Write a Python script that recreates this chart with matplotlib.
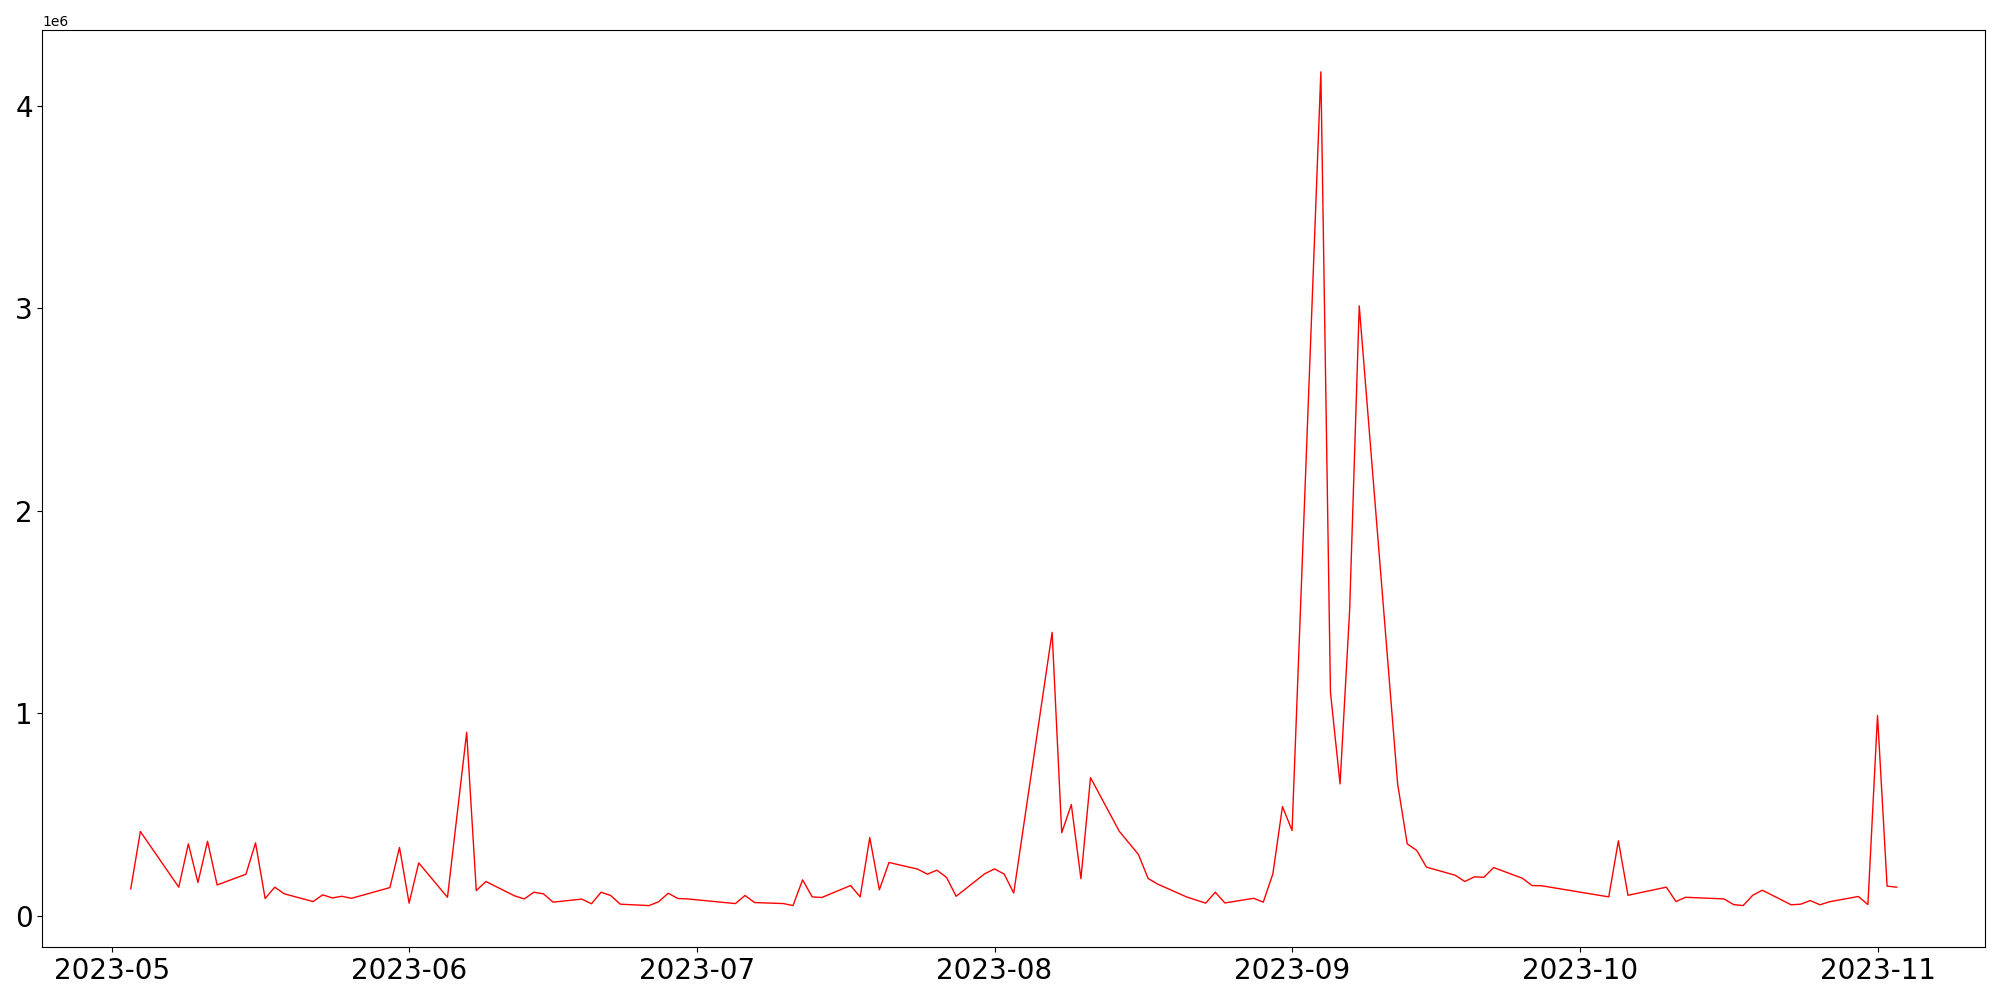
import matplotlib
matplotlib.use("Agg")
import matplotlib.pyplot as plt
import pandas as pd

# daily values (in millions)
may_days = [3, 4, 8, 9, 10, 11, 12, 15, 16, 17, 18, 19, 22, 23, 24, 25, 26, 30, 31]
may_vals = [0.132, 0.415, 0.140, 0.354, 0.163, 0.367, 0.151, 0.204, 0.359, 0.084,
            0.140, 0.107, 0.069, 0.102, 0.087, 0.095, 0.085, 0.138, 0.336]

jun_days = [1, 2, 5, 7, 8, 9, 12, 13, 14, 15, 16, 19, 20, 21, 22, 23, 26, 27, 28, 29, 30]
jun_vals = [0.061, 0.260, 0.090, 0.905, 0.123, 0.168, 0.097, 0.082, 0.115, 0.107, 0.066,
            0.081, 0.058, 0.115, 0.099, 0.056, 0.049, 0.068, 0.110, 0.084, 0.082]

jul_days = [5, 6, 7, 10, 11, 12, 13, 14, 17, 18, 19, 20, 21, 24, 25, 26, 27, 28, 31]
jul_vals = [0.059, 0.099, 0.064, 0.059, 0.049, 0.176, 0.092, 0.089, 0.148, 0.092,
            0.385, 0.127, 0.262, 0.229, 0.204, 0.224, 0.188, 0.095, 0.207]

aug_days = [1, 2, 3, 7, 8, 9, 10, 11, 14, 16, 17, 18, 21, 23, 24, 25, 28, 29, 30, 31]
aug_vals = [0.230, 0.205, 0.111, 1.399, 0.409, 0.548, 0.182, 0.681, 0.416, 0.301,
            0.183, 0.155, 0.092, 0.061, 0.115, 0.062, 0.085, 0.066, 0.206, 0.538]

sep_days = [1, 4, 5, 6, 7, 8, 12, 13, 14, 15, 18, 19, 20, 21, 22, 25, 26, 27]
sep_vals = [0.420, 4.168, 1.103, 0.650, 1.510, 3.012, 0.650, 0.354, 0.321, 0.239,
            0.199, 0.168, 0.191, 0.189, 0.237, 0.184, 0.148, 0.147]

oct_days = [4, 5, 6, 10, 11, 12, 16, 17, 18, 19, 20, 23, 24, 25, 26, 27, 30, 31]
oct_vals = [0.092, 0.369, 0.100, 0.140, 0.069, 0.090, 0.082, 0.054, 0.049, 0.100,
            0.125, 0.053, 0.056, 0.074, 0.053, 0.068, 0.094, 0.054]

nov_days = [1, 2, 3]
nov_vals = [0.988, 0.145, 0.140]

months = [(5, may_days, may_vals), (6, jun_days, jun_vals), (7, jul_days, jul_vals),
          (8, aug_days, aug_vals), (9, sep_days, sep_vals), (10, oct_days, oct_vals),
          (11, nov_days, nov_vals)]

dates = []
values = []
for m, days, vals in months:
    dates += [pd.Timestamp(2023, m, d) for d in days]
    values += [v * 1e6 for v in vals]

plt.figure(figsize=(20, 10), dpi=100)
plt.plot(dates, values, color='red', linewidth=1)
plt.xticks(fontsize=20)
plt.yticks(fontsize=20)
plt.tight_layout()
plt.savefig("out.png", dpi=100)
plt.close()
